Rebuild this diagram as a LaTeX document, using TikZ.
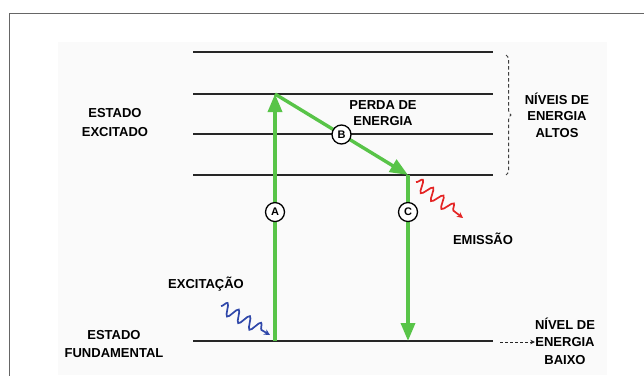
\documentclass[tikz,border=0pt]{standalone}
\usepackage{fontspec}
\setmainfont{Liberation Sans}
\usepackage{tikz}
\usetikzlibrary{arrows.meta, calc, decorations.pathmorphing, decorations.pathreplacing}
\usepackage{xcolor}
\definecolor{lgreen}{RGB}{88,196,72}
\definecolor{wblue}{RGB}{48,72,170}
\definecolor{wred}{RGB}{228,36,36}

\begin{document}
\begin{tikzpicture}[x=1pt,y=-1pt,
    txt/.style={font=\bfseries\fontsize{13}{17.5}\selectfont,align=center,inner sep=0pt},
    level/.style={line width=1.3pt,black!85},
    trans/.style={line width=3.4pt,lgreen,-{Triangle[length=18pt,width=14pt]}},
    letter/.style={circle,draw=black,fill=white,line width=1.3pt,minimum size=19pt,inner sep=0pt,font=\bfseries\fontsize{11}{11}\selectfont},
    wave/.style={line width=1.7pt,decorate,decoration={snake,segment length=13pt,amplitude=6pt,post length=6pt},-{Stealth[length=6pt,width=6pt]}}]
        \useasboundingbox (0,0) rectangle (644,375);
        \fill[white] (0,0) rectangle (644,375);
        \fill[black!2] (58,42) rectangle (607,375);
        \draw[black!60,line width=1.2pt] (9.5,380) -- (9.5,13.5) -- (650,13.5);

        % energy levels
        \foreach \y/\n in {52/4, 94/3, 134/2, 175/1, 341/0} {
            \coordinate (l\n w) at (193,\y);
            \coordinate (l\n e) at (493,\y);
            \draw[level] (l\n w) -- (l\n e);
        }

        \coordinate (a0) at (275,341);
        \coordinate (a1) at (275,94);
        \coordinate (c1) at (408,175);
        \coordinate (c0) at (408,341);

        \draw[trans] (a0) -- (a1);
        \draw[trans] (a1) -- (c1);
        \draw[trans] (c1) -- (c0);
        \node[letter] (circA) at ($(a0)!0.522!(a1)$) {A};
        \node[letter] (circB) at ($(a1)!0.5!(c1)$) {B};
        \node[letter] (circC) at ($(c1)!0.223!(c0)$) {C};

        % labels
        \node[txt,font=\bfseries\fontsize{13}{19}\selectfont] (excitado) at (115,123) {ESTADO\\EXCITADO};
        \node[txt,font=\bfseries\fontsize{13}{18.5}\selectfont] (fundamental) at (114,344) {ESTADO\\FUNDAMENTAL};
        \node[txt,font=\bfseries\fontsize{13}{16}\selectfont] (perda) at (383,113) {PERDA DE\\ENERGIA};
        \node[txt,font=\bfseries\fontsize{13}{16.5}\selectfont] (altos) at (557,115) {NÍVEIS DE\\ENERGIA\\ALTOS};
        \node[txt] (baixo) at (565,341) {NÍVEL DE\\ENERGIA\\BAIXO};
        \node[txt] (excitacao) at (206,284) {EXCITAÇÃO};
        \node[txt] (emissao) at (483,239) {EMISSÃO};

        % photons
        \coordinate (bin) at (221,306);
        \coordinate (bout) at (270,335);
        \coordinate (rin) at (416,182);
        \coordinate (rout) at (463,218);
        \draw[wave,wblue] (bin) -- (bout);
        \draw[wave,wred] (rin) -- (rout);

        % brace and pointer
        \draw[black!75,line width=1pt,dash pattern=on 3.5pt off 2.5pt,decorate,decoration={brace,amplitude=5pt}] (506,55) -- (506,175);
        \coordinate (pt) at (500,342);
        \draw[black!85,line width=0.9pt,dash pattern=on 3pt off 2pt,-{Stealth[length=4.5pt,width=4.5pt]}] (pt) -- (baixo.west |- pt);
\end{tikzpicture}
\end{document}
